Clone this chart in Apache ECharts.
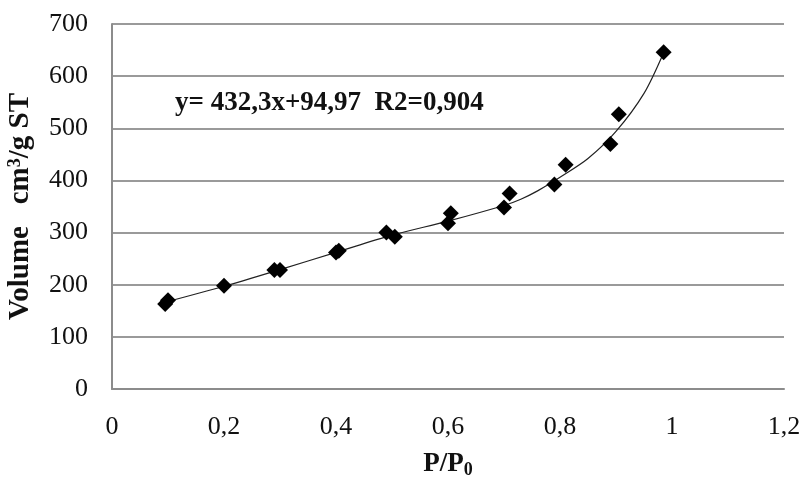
<!DOCTYPE html>
<html>
<head>
<meta charset="utf-8">
<script src="https://cdn.jsdelivr.net/npm/echarts@6/dist/echarts.min.js"></script>
<style>
  html, body { margin: 0; padding: 0; background: #fff; }
  #main { width: 804px; height: 477px; }
</style>
</head>
<body>
<div id="main"></div>
<script>
// measured points (P/P0, volume)
const pressure = [0.095, 0.1, 0.2, 0.29, 0.3, 0.4, 0.405, 0.49, 0.505, 0.6, 0.605, 0.7, 0.71, 0.79, 0.81, 0.89, 0.905, 0.985];
const volume = [163, 170, 198, 228, 228, 262, 265, 300, 292, 318, 337, 348, 375, 392, 430, 470, 527, 646];

// trend curve
const fitX = [0.09, 0.2, 0.3, 0.4, 0.5, 0.6, 0.7, 0.73, 0.76, 0.8, 0.85, 0.9, 0.95, 0.985];
const fitY = [165, 197, 229, 262, 295, 322, 352, 364, 380, 406, 442, 494, 567, 645];

const xTicks = [0, 0.2, 0.4, 0.6, 0.8, 1, 1.2];
const equation = 'y= 432,3x+94,97  R2=0,904';

const serif = 'Liberation Serif';
const myChart = echarts.init(document.getElementById('main'));

const option = {
  backgroundColor: '#fff',
  animation: false,
  grid: { left: 112, right: 20, top: 24, bottom: 88, outerBoundsMode: 'none', containLabel: false },
  xAxis: {
    type: 'value',
    min: 0,
    max: 1.2,
    interval: 0.2,
    name: '{n|P/P}{s|0}',
    nameLocation: 'middle',
    nameGap: 60,
    nameTextStyle: {
      rich: {
        n: { fontFamily: serif, fontWeight: 'bold', fontSize: 27, color: '#111' },
        s: { fontFamily: serif, fontWeight: 'bold', fontSize: 18, color: '#111', verticalAlign: 'bottom', padding: [12, 0, 0, 0] }
      }
    },
    axisLine: { show: true, lineStyle: { color: '#8c8c8c', width: 2 } },
    axisTick: { show: false },
    splitLine: { show: false },
    axisLabel: {
      margin: 25,
      fontFamily: serif,
      fontSize: 26,
      color: '#111',
      formatter: function (v) {
        const t = xTicks.find(function (x) { return Math.abs(x - v) < 1e-6; });
        return String(t === undefined ? v : t).replace('.', ',');
      }
    }
  },
  yAxis: {
    type: 'value',
    min: 0,
    max: 700,
    interval: 100,
    name: '{n|Volume   cm}{s|3}{n|/g ST}',
    nameLocation: 'middle',
    nameGap: 76,
    nameTextStyle: {
      rich: {
        n: { fontFamily: serif, fontWeight: 'bold', fontSize: 29, color: '#111' },
        s: { fontFamily: serif, fontWeight: 'bold', fontSize: 18, color: '#111', verticalAlign: 'top', padding: [0, 0, 12, 0] }
      }
    },
    axisLine: { show: true, lineStyle: { color: '#8c8c8c', width: 2 } },
    axisTick: { show: false },
    splitLine: { show: true, lineStyle: { color: '#9a9a9a', width: 2 } },
    axisLabel: { margin: 24, fontFamily: serif, fontSize: 26, color: '#111' }
  },
  graphic: [{
    type: 'text',
    left: 175,
    top: 90,
    style: { text: equation, fontFamily: serif, fontWeight: 'bold', fontSize: 27, fill: '#111' }
  }],
  series: [
    {
      type: 'line',
      data: fitX.map(function (x, i) { return [x, fitY[i]]; }),
      smooth: 0.3,
      showSymbol: false,
      lineStyle: { color: '#222', width: 1.2 },
      z: 2
    },
    {
      type: 'scatter',
      data: pressure.map(function (x, i) { return [x, volume[i]]; }),
      symbol: 'diamond',
      symbolSize: 16,
      itemStyle: { color: '#000', opacity: 1 },
      z: 3
    }
  ]
};

myChart.setOption(option, true);
window.addEventListener('resize', () => {
  myChart.resize();
});
</script>
</body>
</html>
